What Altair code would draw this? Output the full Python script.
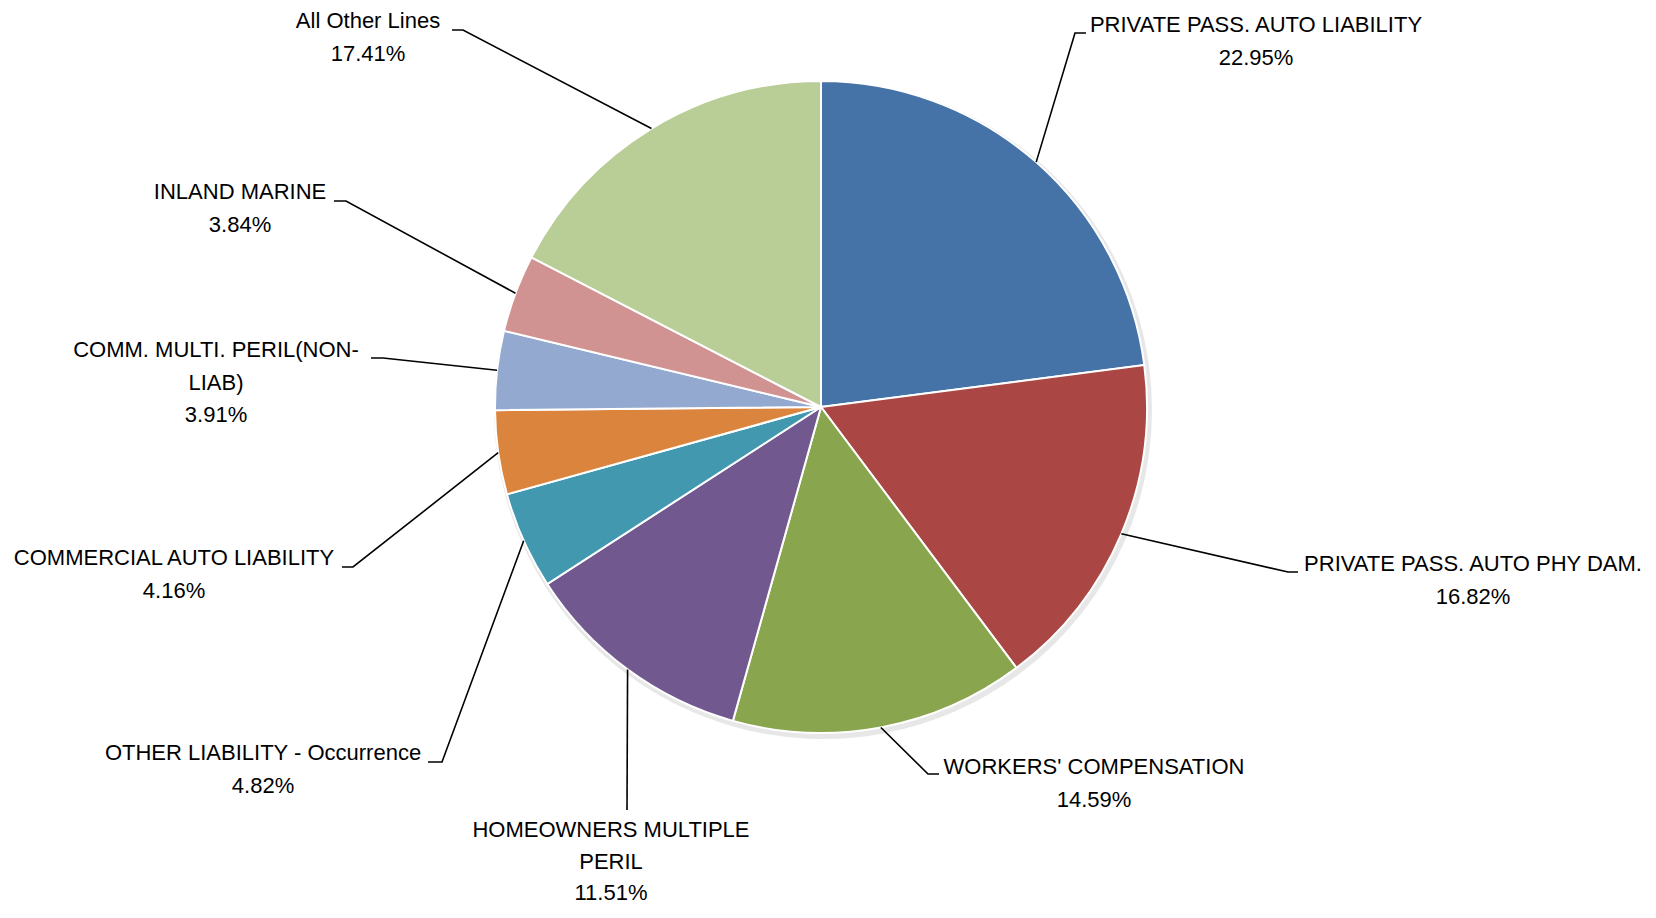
import altair as alt
import pandas as pd
import numpy as np

# ---------------- data ----------------
categories = [
    "PRIVATE PASS. AUTO LIABILITY",
    "PRIVATE PASS. AUTO PHY DAM.",
    "WORKERS' COMPENSATION",
    "HOMEOWNERS MULTIPLE PERIL",
    "OTHER LIABILITY - Occurrence",
    "COMMERCIAL AUTO LIABILITY",
    "COMM. MULTI. PERIL(NON-LIAB)",
    "INLAND MARINE",
    "All Other Lines",
]
shares = [22.95, 16.82, 14.59, 11.51, 4.82, 4.16, 3.91, 3.84, 17.41]
label_text = [
    ["PRIVATE PASS. AUTO LIABILITY"],
    ["PRIVATE PASS. AUTO PHY DAM."],
    ["WORKERS' COMPENSATION"],
    ["HOMEOWNERS MULTIPLE", "PERIL"],
    ["OTHER LIABILITY - Occurrence"],
    ["COMMERCIAL AUTO LIABILITY"],
    ["COMM. MULTI. PERIL(NON-", "LIAB)"],
    ["INLAND MARINE"],
    ["All Other Lines"],
]
colors = ["#4572A7", "#AA4643", "#89A54E", "#71588F", "#4198AF",
          "#DB843D", "#93A9CF", "#D19392", "#B9CD96"]

# ---------------- layout (page pixel coordinates) ----------------
W, H = 1640, 902
CX, CY, R = 821, 407, 326
LH = 32.5
label_cx = [1256, 1473, 1094, 611, 263, 174, 216, 240, 368]
label_y1 = [25, 564, 767, 830, 753, 558, 350, 192, 21]
label_lh = [LH, LH, LH, 31.5, LH, LH, LH, LH, LH]
elbow_x = [1075, 1288, 928, 627, 442, 353, 383, 346, 463]
elbow_y = [33, 572, 774, 810, 762, 567, 358, 201, 30]
end_x = [1086, 1298, 939, 627, 428, 342, 371, 334, 452]

total = sum(shares)
pie_df = pd.DataFrame({"category": categories, "share": shares,
                       "idx": list(range(len(categories)))})

# leader lines: from slice edge (computed from data angle) to label
rows = []
cum = 0.0
for i, (c, s) in enumerate(zip(categories, shares)):
    ang = (cum + s / 2) / total * 2 * np.pi
    cum += s
    ex = CX + R * np.sin(ang)
    ey = CY - R * np.cos(ang)
    rows.append({"category": c, "pt": 0, "px": ex, "py": ey})
    rows.append({"category": c, "pt": 1, "px": elbow_x[i], "py": elbow_y[i]})
    rows.append({"category": c, "pt": 2, "px": end_x[i], "py": elbow_y[i]})
lead_df = pd.DataFrame(rows)

trows = []
for i, c in enumerate(categories):
    lines = label_text[i] + [f"{shares[i]:.2f}%"]
    for j, t in enumerate(lines):
        trows.append({"category": c, "txt": t, "tx": label_cx[i],
                      "ty": label_y1[i] + j * label_lh[i]})
text_df = pd.DataFrame(trows)

xs = alt.Scale(domain=[8, 8 + W], nice=False, zero=False)
ys = alt.Scale(domain=[8, 8 + H], nice=False, zero=False, reverse=True)

shadow = alt.Chart(pie_df).mark_arc(outerRadius=R + 3, color="#bbbbbb", opacity=0.35).encode(
    theta=alt.Theta("share:Q", stack=True),
    order=alt.Order("idx:Q"),
    x=alt.value(CX - 8 + 2),
    y=alt.value(CY - 8 + 3),
)

pie = alt.Chart(pie_df).mark_arc(outerRadius=R, stroke="white", strokeWidth=2).encode(
    theta=alt.Theta("share:Q", stack=True),
    color=alt.Color("category:N", scale=alt.Scale(domain=categories, range=colors), legend=None),
    order=alt.Order("idx:Q"),
    x=alt.value(CX - 8),
    y=alt.value(CY - 8),
)

leaders = alt.Chart(lead_df).mark_line(color="black", strokeWidth=1.6).encode(
    x=alt.X("px:Q", scale=xs, axis=None),
    y=alt.Y("py:Q", scale=ys, axis=None),
    detail="category:N",
    order="pt:Q",
)

labels = alt.Chart(text_df).mark_text(
    align="center", baseline="middle", font="Liberation Sans", fontSize=22, color="black"
).encode(
    x=alt.X("tx:Q", scale=xs, axis=None),
    y=alt.Y("ty:Q", scale=ys, axis=None),
    text="txt:N",
)

chart = alt.layer(shadow, pie, leaders, labels).properties(
    width=W, height=H, padding=0, autosize=alt.AutoSizeParams(type="none"),
    background="white",
).configure_view(stroke=None)

chart.save("out.html", embed_options={"renderer": "svg", "actions": False})
